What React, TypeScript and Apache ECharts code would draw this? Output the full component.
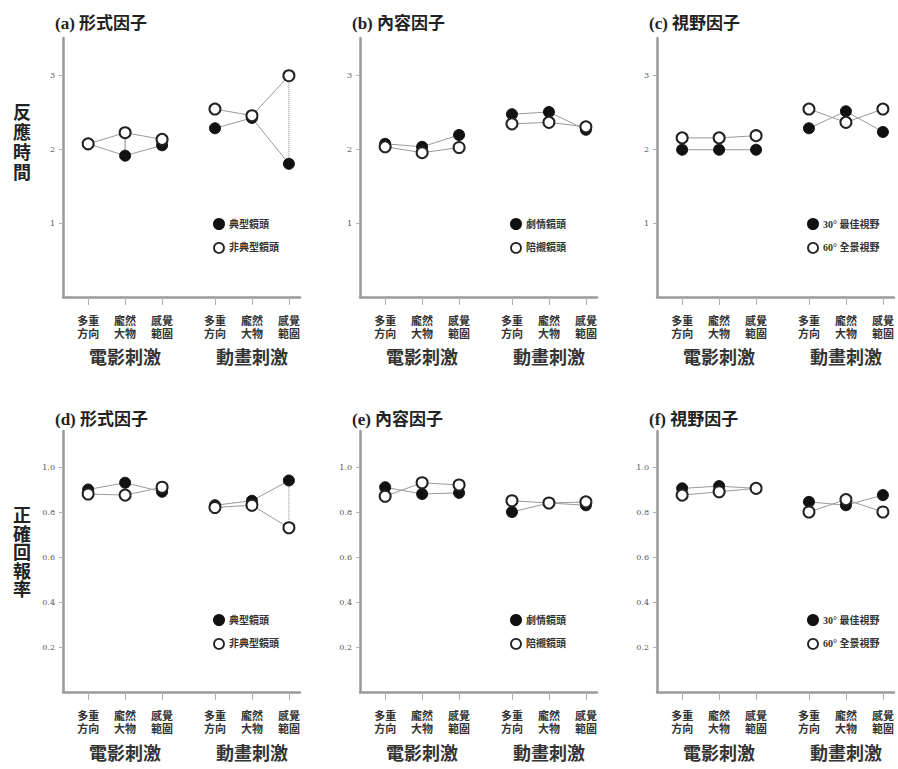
import React, { useEffect, useRef } from "react";
import * as echarts from "echarts";

// ---------- data ----------
const categories = ["多重\n方向", "龐然\n大物", "感覺\n範圍"];
const groups = ["電影刺激", "動畫刺激"];
const filmX = [1, 2, 3];
const animX = [4.43, 5.43, 6.43];

const titles = ["(a) 形式因子", "(b) 內容因子", "(c) 視野因子", "(d) 形式因子", "(e) 內容因子", "(f) 視野因子"];
const rowNames = ["反\n應\n時\n間", "正\n確\n回\n報\n率"];

const legendForm = ["典型鏡頭", "非典型鏡頭"];
const legendContent = ["劇情鏡頭", "陪襯鏡頭"];
const legendView = ["30° 最佳視野", "60° 全景視野"];

const rtTicks = [1, 2, 3];
const accTicks = [0.2, 0.4, 0.6, 0.8, 1.0];

// (a) reaction time, form factor
const aFilledFilm = [2.07, 1.91, 2.05];
const aFilledAnim = [2.28, 2.42, 1.8];
const aOpenFilm = [2.07, 2.22, 2.13];
const aOpenAnim = [2.54, 2.45, 2.99];
// (b) reaction time, content factor
const bFilledFilm = [2.07, 2.03, 2.19];
const bFilledAnim = [2.47, 2.5, 2.26];
const bOpenFilm = [2.03, 1.95, 2.02];
const bOpenAnim = [2.34, 2.36, 2.3];
// (c) reaction time, view factor
const cFilledFilm = [1.99, 1.99, 1.99];
const cFilledAnim = [2.28, 2.51, 2.23];
const cOpenFilm = [2.15, 2.15, 2.18];
const cOpenAnim = [2.54, 2.36, 2.54];
// (d) accuracy, form factor
const dFilledFilm = [0.9, 0.93, 0.89];
const dFilledAnim = [0.83, 0.85, 0.94];
const dOpenFilm = [0.88, 0.875, 0.91];
const dOpenAnim = [0.82, 0.83, 0.73];
// (e) accuracy, content factor
const eFilledFilm = [0.91, 0.88, 0.885];
const eFilledAnim = [0.8, 0.84, 0.83];
const eOpenFilm = [0.87, 0.93, 0.92];
const eOpenAnim = [0.85, 0.84, 0.845];
// (f) accuracy, view factor
const fFilledFilm = [0.905, 0.915, 0.905];
const fFilledAnim = [0.845, 0.83, 0.875];
const fOpenFilm = [0.875, 0.89, 0.905];
const fOpenAnim = [0.8, 0.855, 0.8];

// connector lines between the two conditions (panel index, x, y1, y2, dotted)
const connectors: [number, number, number, number, boolean][] = [
  [0, 2, 1.91, 2.22, false],
  [0, 6.43, 1.8, 2.99, true],
  [3, 6.43, 0.73, 0.94, true],
];

const panelData = [
  { f: [aFilledFilm, aFilledAnim], o: [aOpenFilm, aOpenAnim], legend: legendForm },
  { f: [bFilledFilm, bFilledAnim], o: [bOpenFilm, bOpenAnim], legend: legendContent },
  { f: [cFilledFilm, cFilledAnim], o: [cOpenFilm, cOpenAnim], legend: legendView },
  { f: [dFilledFilm, dFilledAnim], o: [dOpenFilm, dOpenAnim], legend: legendForm },
  { f: [eFilledFilm, eFilledAnim], o: [eOpenFilm, eOpenAnim], legend: legendContent },
  { f: [fFilledFilm, fFilledAnim], o: [fOpenFilm, fOpenAnim], legend: legendView },
];

// ---------- layout ----------
const colLeft = [63, 360, 657];
const gridW = 237;
const rowTop = [38, 431];
const rowBottom = [297, 692];
const xMin = 0.32;
const xMax = 6.73;

const serif = "'DejaVu Serif', 'Liberation Serif', 'Noto Sans CJK TC', serif";
const cjk = "'Liberation Serif', 'Noto Sans CJK TC', serif";

function xPix(col: number, v: number) {
  return colLeft[col] + ((v - xMin) / (xMax - xMin)) * gridW;
}

export default function App() {
  const ref = useRef<HTMLDivElement>(null);

  useEffect(() => {
    if (!ref.current) return;
    const chart = echarts.init(ref.current, null, { renderer: "svg" });
    const allX = [...filmX, ...animX];
    const grid: any[] = [];
    const xAxis: any[] = [];
    const yAxis: any[] = [];
    const series: any[] = [];
    const legend: any[] = [];
    const title: any[] = [];
    const graphic: any[] = [];

    panelData.forEach((p, i) => {
      const row = Math.floor(i / 3);
      const col = i % 3;
      grid.push({
        left: colLeft[col],
        width: gridW,
        top: rowTop[row],
        height: rowBottom[row] - rowTop[row],
      });
      xAxis.push({
        gridIndex: i,
        type: "value",
        min: xMin,
        max: xMax,
        splitLine: { show: false },
        axisLine: { show: true, lineStyle: { color: "#9a9a9a", width: 2.5 } },
        axisTick: { show: true, customValues: allX, length: 8, lineStyle: { color: "#b0b0b0", width: 1 } },
        axisLabel: {
          customValues: allX,
          margin: 17,
          fontSize: 11,
          lineHeight: 13,
          fontWeight: "bold",
          color: "#333",
          fontFamily: cjk,
          formatter: (v: number) => {
            let idx = 0;
            let best = 1e9;
            allX.forEach((x, k) => {
              if (Math.abs(x - v) < best) {
                best = Math.abs(x - v);
                idx = k;
              }
            });
            return categories[idx % 3];
          },
        },
      });
      const ticks = row === 0 ? rtTicks : accTicks;
      yAxis.push({
        gridIndex: i,
        type: "value",
        min: 0,
        max: row === 0 ? 3.5 : 1.16,
        splitLine: { show: false },
        axisLine: { show: true, lineStyle: { color: "#9a9a9a", width: 2.5 } },
        axisTick: { show: true, customValues: ticks, length: 4, lineStyle: { color: "#b0b0b0" } },
        axisLabel: {
          customValues: ticks,
          fontSize: 8,
          color: "#555",
          margin: 8,
          fontFamily: serif,
          formatter: (v: number) => (row === 0 ? String(v) : v.toFixed(1)),
        },
      });

      const mk = (xs: number[], vals: number[], name: string, filled: boolean) => ({
        type: "line",
        name,
        xAxisIndex: i,
        yAxisIndex: i,
        data: xs.map((x, k) => [x, vals[k]]),
        symbol: "circle",
        symbolSize: 11,
        lineStyle: { color: "#9a9a9a", width: 1 },
        itemStyle: filled
          ? { color: "#111", borderColor: "#111", borderWidth: 1 }
          : { color: "#fff", borderColor: "#222", borderWidth: 2 },
        z: filled ? 3 : 4,
      });

      connectors
        .filter((c) => c[0] === i)
        .forEach((c) => {
          series.push({
            type: "line",
            xAxisIndex: i,
            yAxisIndex: i,
            data: [
              [c[1], c[2]],
              [c[1], c[3]],
            ],
            symbol: "none",
            lineStyle: { color: "#888", width: 1, type: c[4] ? "dotted" : "solid" },
            z: 2,
          });
        });

      series.push(mk(filmX, p.f[0], p.legend[0], true));
      series.push(mk(animX, p.f[1], p.legend[0], true));
      series.push(mk(filmX, p.o[0], p.legend[1], false));
      series.push(mk(animX, p.o[1], p.legend[1], false));

      legend.push({
        orient: "vertical",
        left: colLeft[col] + 145,
        top: row === 0 ? 213 : 609,
        icon: "circle",
        itemWidth: 10,
        itemHeight: 10,
        itemGap: 12,
        selectedMode: false,
        textStyle: { fontSize: 10, color: "#333", fontFamily: cjk, fontWeight: "bold" },
        data: [
          { name: p.legend[0], itemStyle: { color: "#111", borderColor: "#111" } },
          { name: p.legend[1], itemStyle: { color: "#fff", borderColor: "#222", borderWidth: 1.8 } },
        ],
      });

      title.push({
        text: titles[i],
        left: colLeft[col] - 13,
        top: row === 0 ? 10 : 406,
        textStyle: { fontSize: 17, fontWeight: "bold", color: "#222", fontFamily: cjk },
      });

      groups.forEach((g, gi) => {
        const xs = gi === 0 ? filmX : animX;
        const cx = xPix(col, (xs[0] + xs[2]) / 2);
        graphic.push({
          type: "text",
          x: cx,
          y: row === 0 ? 358 : 754,
          style: {
            text: g,
            font: `bold 18px ${cjk}`,
            fill: "#333",
            align: "center",
            verticalAlign: "middle",
          },
        });
      });
    });

    rowNames.forEach((n, r) => {
      graphic.push({
        type: "text",
        x: 22,
        y: r === 0 ? 143 : 553,
        style: {
          text: n,
          font: `bold 18px ${cjk}`,
          fill: "#222",
          align: "center",
          verticalAlign: "middle",
          lineHeight: r === 0 ? 20 : 18.5,
        },
      });
    });

    chart.setOption({
      animation: false,
      backgroundColor: "#fff",
      title,
      legend,
      grid,
      xAxis,
      yAxis,
      series,
      graphic,
    });
    return () => chart.dispose();
  }, []);

  return (
    <div
      ref={ref}
      style={{ position: "absolute", left: 0, top: 0, width: 898, height: 769 }}
    />
  );
}
